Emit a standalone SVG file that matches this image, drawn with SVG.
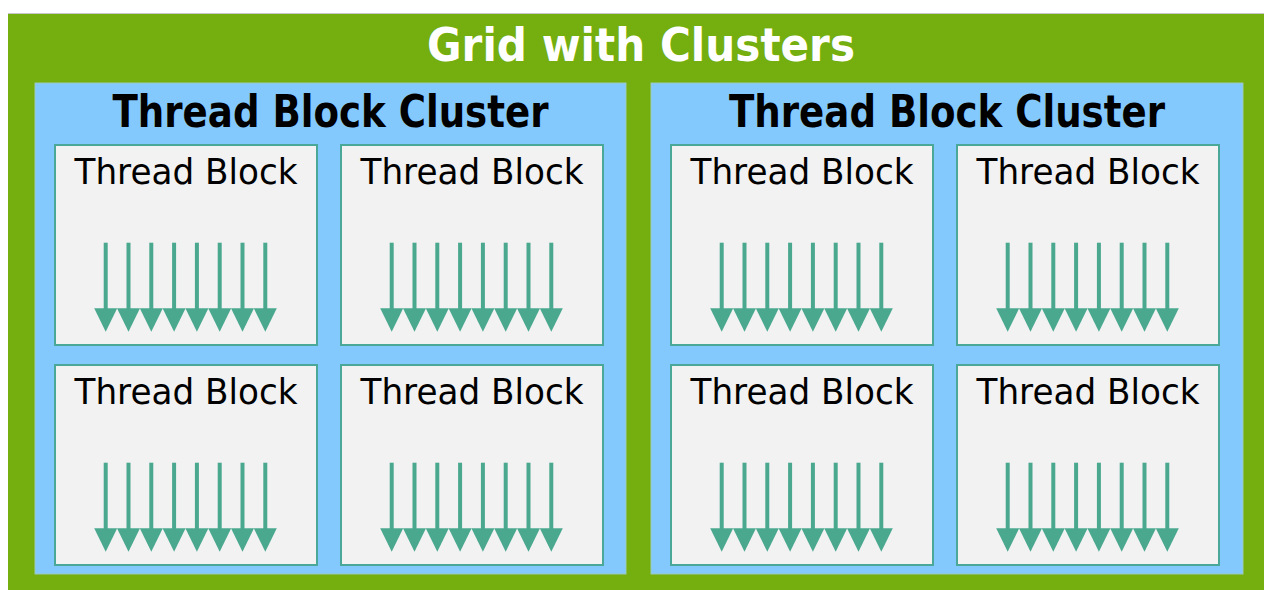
<svg xmlns="http://www.w3.org/2000/svg" xmlns:xlink="http://www.w3.org/1999/xlink" width="1264" height="590" viewBox="0 0 1264 590">
  <style>
    .grid { fill: #74ae0f; }
    .cluster { fill: #84c9fe; stroke: #9cc9b8; stroke-width: 1; }
    .block { fill: #f2f2f2; stroke: #4aa898; stroke-width: 2; }
    .t-grid { font-family: "DejaVu Sans", sans-serif; font-weight: bold; font-size: 47px; fill: #ffffff; text-anchor: middle; }
    .t-cluster { font-family: "DejaVu Sans", sans-serif; font-weight: bold; font-size: 44px; fill: #000000; text-anchor: middle; }
    .t-block { font-family: "DejaVu Sans", sans-serif; font-size: 36px; fill: #000000; text-anchor: middle; }
    .thread { stroke: #4aa88f; stroke-width: 4; fill: none; }
    .head { fill: #4aa88f; }
  </style>
  <defs>
    <g id="threads">
      <g class="thread-line">
        <line class="thread" x1="50.7" y1="97.7" x2="50.7" y2="165"/>
        <line class="thread" x1="73.5" y1="97.7" x2="73.5" y2="165"/>
        <line class="thread" x1="96.3" y1="97.7" x2="96.3" y2="165"/>
        <line class="thread" x1="119.1" y1="97.7" x2="119.1" y2="165"/>
        <line class="thread" x1="141.9" y1="97.7" x2="141.9" y2="165"/>
        <line class="thread" x1="164.7" y1="97.7" x2="164.7" y2="165"/>
        <line class="thread" x1="187.5" y1="97.7" x2="187.5" y2="165"/>
        <line class="thread" x1="210.3" y1="97.7" x2="210.3" y2="165"/>
      </g>
      <polygon class="head" points="39.2,163.3 62.2,163.3 50.7,186.7"/>
      <polygon class="head" points="62,163.3 85,163.3 73.5,186.7"/>
      <polygon class="head" points="84.8,163.3 107.8,163.3 96.3,186.7"/>
      <polygon class="head" points="107.6,163.3 130.6,163.3 119.1,186.7"/>
      <polygon class="head" points="130.4,163.3 153.4,163.3 141.9,186.7"/>
      <polygon class="head" points="153.2,163.3 176.2,163.3 164.7,186.7"/>
      <polygon class="head" points="176,163.3 199,163.3 187.5,186.7"/>
      <polygon class="head" points="198.8,163.3 221.8,163.3 210.3,186.7"/>
    </g>
  </defs>

  <g id="grid">
    <rect class="grid" x="8" y="13" width="1256" height="577"/>
    <line x1="8" y1="13.5" x2="1264" y2="13.5" stroke="#c8c8c8" stroke-width="1"/>
    <text class="t-grid" x="641" y="61" textLength="428" lengthAdjust="spacingAndGlyphs">Grid with Clusters</text>
  </g>

  <g id="cluster1">
    <rect class="cluster" x="35" y="83" width="591" height="491"/>
    <text class="t-cluster" x="330.5" y="127" textLength="436" lengthAdjust="spacingAndGlyphs">Thread Block Cluster</text>
  </g>
  <g id="cluster2">
    <rect class="cluster" x="651" y="83" width="592" height="491"/>
    <text class="t-cluster" x="947" y="127" textLength="436" lengthAdjust="spacingAndGlyphs">Thread Block Cluster</text>
  </g>

  <g id="block-c1-1" transform="translate(55,145)">
    <rect class="block" x="0" y="0" width="262" height="200"/>
    <text class="t-block" x="131" y="38.5" textLength="223" lengthAdjust="spacingAndGlyphs">Thread Block</text>
    <use xlink:href="#threads"/>
  </g>
  <g id="block-c1-2" transform="translate(341,145)">
    <rect class="block" x="0" y="0" width="262" height="200"/>
    <text class="t-block" x="131" y="38.5" textLength="223" lengthAdjust="spacingAndGlyphs">Thread Block</text>
    <use xlink:href="#threads"/>
  </g>
  <g id="block-c1-3" transform="translate(55,365)">
    <rect class="block" x="0" y="0" width="262" height="200"/>
    <text class="t-block" x="131" y="38.5" textLength="223" lengthAdjust="spacingAndGlyphs">Thread Block</text>
    <use xlink:href="#threads"/>
  </g>
  <g id="block-c1-4" transform="translate(341,365)">
    <rect class="block" x="0" y="0" width="262" height="200"/>
    <text class="t-block" x="131" y="38.5" textLength="223" lengthAdjust="spacingAndGlyphs">Thread Block</text>
    <use xlink:href="#threads"/>
  </g>

  <g id="block-c2-1" transform="translate(671,145)">
    <rect class="block" x="0" y="0" width="262" height="200"/>
    <text class="t-block" x="131" y="38.5" textLength="223" lengthAdjust="spacingAndGlyphs">Thread Block</text>
    <use xlink:href="#threads"/>
  </g>
  <g id="block-c2-2" transform="translate(957,145)">
    <rect class="block" x="0" y="0" width="262" height="200"/>
    <text class="t-block" x="131" y="38.5" textLength="223" lengthAdjust="spacingAndGlyphs">Thread Block</text>
    <use xlink:href="#threads"/>
  </g>
  <g id="block-c2-3" transform="translate(671,365)">
    <rect class="block" x="0" y="0" width="262" height="200"/>
    <text class="t-block" x="131" y="38.5" textLength="223" lengthAdjust="spacingAndGlyphs">Thread Block</text>
    <use xlink:href="#threads"/>
  </g>
  <g id="block-c2-4" transform="translate(957,365)">
    <rect class="block" x="0" y="0" width="262" height="200"/>
    <text class="t-block" x="131" y="38.5" textLength="223" lengthAdjust="spacingAndGlyphs">Thread Block</text>
    <use xlink:href="#threads"/>
  </g>

  <g id="connectors"></g>
</svg>
